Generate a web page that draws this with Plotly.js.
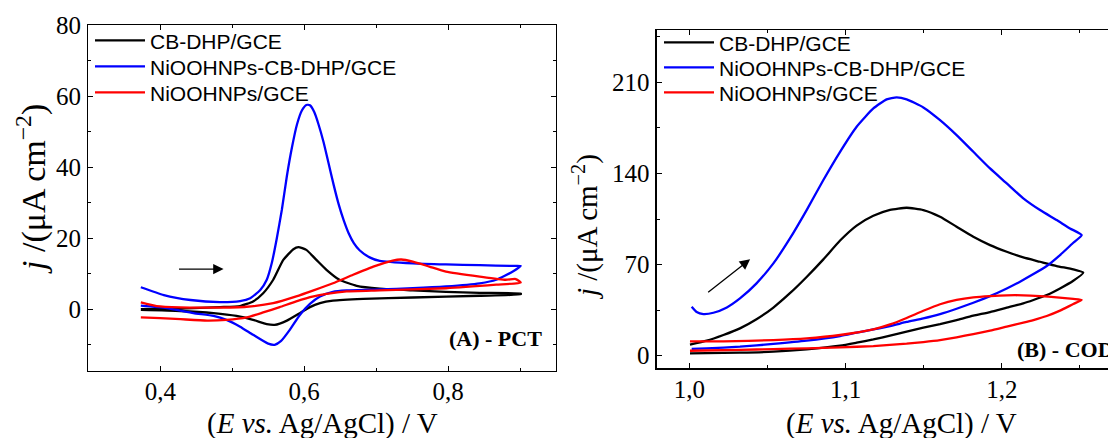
<!DOCTYPE html>
<html>
<head>
<meta charset="utf-8">
<script src="https://cdn.plot.ly/plotly-3.0.1.min.js"></script>
<style>
html, body { margin: 0; padding: 0; overflow: hidden; background: #fff; }
#chart { width: 1160px; height: 438px; }
</style>
</head>
<body>
<div id="chart"></div>
<script>
// ---------- Data ----------
const seriesNames = ['CB-DHP/GCE', 'NiOOHNPs-CB-DHP/GCE', 'NiOOHNPs/GCE'];
const seriesColors = ['#000000', '#0000ff', '#ff0000'];

// Panel A - PCT
const pctCbE = [0.373,0.428,0.483,0.511,0.529,0.543,0.557,0.571,0.585,0.592,0.603,0.617,0.631,0.649,0.673,0.705,0.751,0.797,0.844,0.901,
                0.901,0.844,0.751,0.682,0.640,0.622,0.608,0.594,0.576,0.559,0.548,0.529,0.506,0.474,0.428,0.373];
const pctCbJ = [0.0,0.2,0.6,0.9,2.2,4.5,8.3,13.9,16.9,17.5,16.7,13.9,11.1,8.3,6.6,5.8,5.3,4.9,4.6,4.4,
                4.2,3.8,3.3,2.9,2.4,1.7,0.6,-1.1,-3.2,-4.4,-4.2,-3.0,-1.9,-1.1,-0.5,-0.2];

const pctNiCbE = [0.373,0.405,0.442,0.483,0.511,0.525,0.539,0.548,0.555,0.562,0.569,0.576,0.583,0.590,0.597,0.603,0.608,0.614,0.620,0.627,0.634,0.641,0.648,0.655,0.662,0.669,0.677,0.691,0.705,0.751,0.797,0.844,0.890,0.901,
                  0.890,0.867,0.844,0.797,0.751,0.705,0.659,0.640,0.622,0.608,0.594,0.580,0.568,0.559,0.550,0.529,0.511,0.492,0.474,0.446,0.409,0.373];
const pctNiCbJ = [6.2,4.0,2.6,2.0,2.3,3.1,5.4,8.3,13.0,20.0,28.0,37.5,45.5,52.0,56.0,57.5,57.4,55.5,52.0,47.0,41.0,35.0,29.5,25.0,21.3,18.6,16.6,14.6,13.6,12.9,12.6,12.4,12.2,12.2,
                  10.6,8.3,7.3,6.4,5.9,5.6,5.3,4.9,3.6,1.5,-1.6,-5.8,-8.9,-10.0,-9.7,-7.2,-4.9,-3.0,-1.9,-1.1,0.3,1.0];

const pctNiE = [0.373,0.395,0.428,0.474,0.520,0.557,0.589,0.613,0.640,0.668,0.696,0.723,0.735,0.751,0.774,0.797,0.844,0.880,0.894,0.901,
                0.867,0.797,0.705,0.659,0.631,0.613,0.589,0.566,0.543,0.520,0.492,0.465,0.428,0.400,0.373];
const pctNiJ = [1.9,0.85,0.5,0.45,0.7,1.7,3.6,5.3,7.3,9.7,12.0,13.7,14.0,13.4,12.0,10.6,9.2,8.3,8.5,7.5,
                6.9,5.9,5.3,5.0,4.3,3.6,2.2,0.6,-0.9,-2.3,-3.0,-3.2,-2.8,-2.5,-2.3];

// Panel B - COD
const codCbE = [1.0004,1.0111,1.0218,1.0324,1.0430,1.0538,1.0644,1.0751,1.0858,1.0965,1.1071,1.1178,1.1285,1.1391,1.1498,1.1605,1.1711,1.1818,1.1925,1.2032,1.2138,1.2245,1.2352,1.2458,1.2522,
                1.2458,1.2373,1.2288,1.2203,1.2138,1.2032,1.1925,1.1818,1.1711,1.1605,1.1498,1.1391,1.1285,1.1178,1.1071,1.0965,1.0751,1.0538,1.0324,1.0004];
const codCbJ = [8.5,11.5,15.9,21.0,28.0,37.0,48.0,60.5,74.0,88.5,100.0,107.5,112.0,113.7,111.9,106.8,99.1,91.4,85.0,79.9,75.5,72.2,68.9,66.3,63.8,
                57.6,51.7,46.6,42.8,40.2,36.9,33.5,30.7,27.4,24.3,21.5,18.4,15.4,12.5,10.0,7.7,4.9,3.1,2.3,1.8];

const codNiCbE = [1.0015,1.0047,1.0090,1.0154,1.0240,1.0324,1.0430,1.0538,1.0644,1.0751,1.0858,1.0965,1.1071,1.1178,1.1263,1.1327,1.1391,1.1498,1.1605,1.1711,1.1818,1.1925,1.2032,1.2138,1.2245,1.2352,1.2437,1.2512,
                  1.2458,1.2373,1.2288,1.2203,1.2117,1.2032,1.1925,1.1818,1.1711,1.1605,1.1498,1.1391,1.1285,1.1178,1.1071,1.0965,1.0751,1.0538,1.0324,1.0111,1.0015];
const codNiCbJ = [37.6,33.5,32.0,33.0,37.1,44.0,55.6,70.9,90.1,111.9,135.0,156.7,176.0,190.0,197.0,198.5,197.0,190.8,181.0,169.5,156.7,143.9,132.4,120.9,111.9,104.2,97.8,92.7,
                  86.8,77.3,68.9,62.7,56.9,51.7,45.8,40.7,36.1,32.0,28.7,25.9,22.8,20.2,17.7,15.1,11.5,9.0,6.9,5.6,5.2];

const codNiE = [1.0004,1.0218,1.0538,1.0751,1.0965,1.1178,1.1285,1.1391,1.1498,1.1605,1.1711,1.1818,1.1925,1.2032,1.2138,1.2245,1.2352,1.2458,1.2512,
                1.2458,1.2373,1.2288,1.2203,1.2138,1.2032,1.1925,1.1818,1.1711,1.1605,1.1498,1.1391,1.1178,1.0965,1.0751,1.0538,1.0324,1.0004];
const codNiJ = [11.0,11.0,12.0,13.3,15.9,20.2,24.0,29.0,34.5,39.5,42.8,44.8,45.8,46.4,46.4,45.8,44.8,43.6,42.8,
                39.7,34.6,30.5,27.4,25.4,22.3,19.2,16.6,14.1,12.0,10.5,9.2,7.4,6.4,5.6,5.1,4.4,3.8];

const xTicksA = [0.4, 0.6, 0.8];
const yTicksA = [0, 20, 40, 60, 80];
const xTicksB = [1.0, 1.1, 1.2];
const yTicksB = [0, 70, 140, 210];

// ---------- Layout geometry ----------
const W = 1160, H = 438;
const px = v => v / W;
const py = v => 1 - v / H;

const serif = 'Liberation Serif, Times New Roman, serif';
const sans = 'Liberation Sans, Arial, sans-serif';

function mkTrace(x, y, i, xa, ya, leg) {
  return {
    x: x, y: y, type: 'scatter', mode: 'lines',
    name: seriesNames[i], legend: leg,
    line: {color: seriesColors[i], width: 2.3, shape: 'spline', smoothing: 0.5},
    xaxis: xa, yaxis: ya, hoverinfo: 'skip'
  };
}

const traces = [
  mkTrace(pctCbE, pctCbJ, 0, 'x', 'y', 'legend'),
  mkTrace(pctNiCbE, pctNiCbJ, 1, 'x', 'y', 'legend2'),
  mkTrace(pctNiE, pctNiJ, 2, 'x', 'y', 'legend3'),
  mkTrace(codCbE, codCbJ, 0, 'x2', 'y2', 'legend4'),
  mkTrace(codNiCbE, codNiCbJ, 1, 'x2', 'y2', 'legend5'),
  mkTrace(codNiE, codNiJ, 2, 'x2', 'y2', 'legend6')
];

function axisBase() {
  return {
    showline: true, linecolor: '#000', linewidth: 1.3, mirror: 'ticks',
    ticks: 'inside', ticklen: 5, tickwidth: 1, tickcolor: '#000',
    showgrid: false, zeroline: false,
    tickfont: {family: serif, size: 25, color: '#000'},
    tickformat: '.1f'
  };
}

const xA = Object.assign(axisBase(), {
  domain: [px(88.3), px(556)], range: [0.30, 0.95], anchor: 'y',
  tickvals: xTicksA, ticklabelstandoff: -2,
  minor: {ticks: 'inside', ticklen: 3, dtick: 0.1, tick0: 0, tickcolor: '#000'}
});
const yA = Object.assign(axisBase(), {
  domain: [py(370.7), py(25)], range: [-17.3, 80], anchor: 'x',
  tickvals: yTicksA, tickformat: 'd', ticklabelstandoff: 1,
  minor: {ticks: 'inside', ticklen: 3, dtick: 10, tick0: 0, tickcolor: '#000'}
});
const xB = Object.assign(axisBase(), {
  domain: [px(656.7), px(1146.7)], range: [0.9791, 1.2928], anchor: 'y2',
  tickvals: xTicksB, ticklabelstandoff: -2,
  minor: {ticks: 'inside', ticklen: 3, dtick: 0.05, tick0: 0, tickcolor: '#000'}
});
const yB = Object.assign(axisBase(), {
  domain: [py(368.3), py(30)], range: [-9.7, 250.3], anchor: 'x2',
  tickvals: yTicksB, tickformat: 'd', ticklabelstandoff: 1,
  minor: {ticks: 'inside', ticklen: 3, dtick: 35, tick0: 0, tickcolor: '#000'}
});

function leg(xLeft, yCenter) {
  return {
    font: {family: sans, size: 21, color: '#000'},
    bgcolor: 'rgba(0,0,0,0)', borderwidth: 0,
    itemwidth: 50, tracegroupgap: 0,
    xanchor: 'left', yanchor: 'middle', xref: 'paper', yref: 'paper',
    x: px(xLeft), y: py(yCenter)
  };
}

const xTitle = '(<i>E vs.</i> Ag/AgCl) / V';
const yTitle = '<i>j</i> /(μA cm<sup>−2</sup>)';

const annotations = [
  {xref: 'paper', yref: 'paper', x: px(322.2), y: py(423), text: xTitle, showarrow: false,
   xanchor: 'center', yanchor: 'middle', font: {family: serif, size: 29, color: '#000'}},
  {xref: 'paper', yref: 'paper', x: px(901.7), y: py(423), text: xTitle, showarrow: false,
   xanchor: 'center', yanchor: 'middle', font: {family: serif, size: 29, color: '#000'}},
  {xref: 'paper', yref: 'paper', x: px(32), y: py(189), text: yTitle, showarrow: false, textangle: -90,
   xanchor: 'center', yanchor: 'middle', font: {family: serif, size: 34, color: '#000'}},
  {xref: 'paper', yref: 'paper', x: px(585), y: py(227), text: yTitle, showarrow: false, textangle: -90,
   xanchor: 'center', yanchor: 'middle', font: {family: serif, size: 29, color: '#000'}},
  {xref: 'x', yref: 'y', x: 0.933, y: -8.2, text: '<b>(A) - PCT</b>', showarrow: false,
   xanchor: 'right', yanchor: 'middle', font: {family: serif, size: 22, color: '#000'}},
  {xref: 'x2', yref: 'y2', x: 1.2085, y: 4.4, text: '<b>(B) - COD</b>', showarrow: false,
   xanchor: 'left', yanchor: 'middle', font: {family: serif, size: 22, color: '#000'}},
  {xref: 'x', yref: 'y', x: 0.488, y: 11.3, ax: 0.424, ay: 11.3, axref: 'x', ayref: 'y',
   text: '', showarrow: true, arrowhead: 2, arrowsize: 1.6, arrowwidth: 1.3, arrowcolor: '#000'},
  {xref: 'x2', yref: 'y2', x: 1.0389, y: 74.1, ax: 1.0111, ay: 47.9, axref: 'x2', ayref: 'y2',
   text: '', showarrow: true, arrowhead: 2, arrowsize: 1.6, arrowwidth: 1.3, arrowcolor: '#000'}
];

const layout = {
  width: W, height: H,
  margin: {l: 0, r: 0, t: 0, b: 0, pad: 0},
  paper_bgcolor: '#fff', plot_bgcolor: '#fff',
  separators: ',.',
  showlegend: true,
  xaxis: xA, yaxis: yA, xaxis2: xB, yaxis2: yB,
  legend: leg(90, 40.7),
  legend2: leg(90, 66.7),
  legend3: leg(90, 92.7),
  legend4: leg(659, 42.7),
  legend5: leg(659, 67.7),
  legend6: leg(659, 92.7),
  annotations: annotations
};

Plotly.newPlot('chart', traces, layout, {staticPlot: true, displayModeBar: false});
</script>
</body>
</html>
